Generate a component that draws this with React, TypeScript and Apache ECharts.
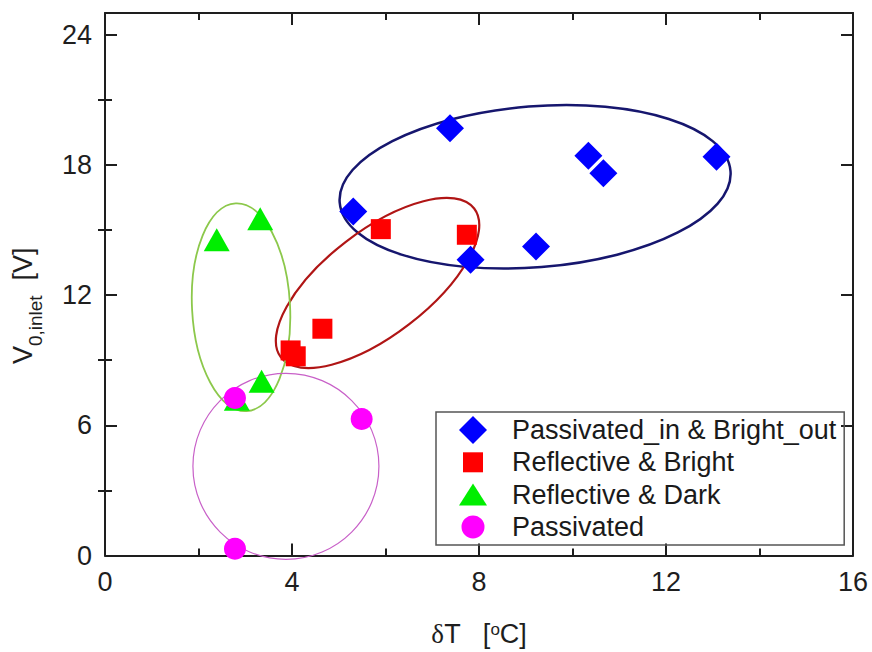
import React, { useEffect, useRef } from 'react';
import * as echarts from 'echarts';

// ---- data ----
const seriesNames = [
  'Passivated_in & Bright_out',
  'Reflective & Bright',
  'Reflective & Dark',
  'Passivated',
];
const passInBrightOutX = [5.31, 7.38, 7.82, 9.22, 10.34, 10.66, 13.08];
const passInBrightOutY = [15.85, 19.69, 13.63, 14.24, 18.42, 17.62, 18.38];
const reflBrightX = [3.97, 4.08, 4.65, 5.9, 7.74];
const reflBrightY = [9.45, 9.18, 10.45, 15.04, 14.78];
const reflDarkX = [2.39, 3.32, 3.35, 2.82];
const reflDarkY = [14.55, 15.52, 8.03, 7.2];
const passivatedX = [2.78, 5.49, 2.78];
const passivatedY = [7.26, 6.29, 0.31];

const xTickValues = [0, 4, 8, 12, 16];
const yTickLabels = [0, 6, 12, 18, 24];
const yMinorTicks = [3, 9, 15, 21];

// grouping ellipses (centres in data units)
const groupCentreX = [9.2, 5.83, 2.91, 3.87];
const groupCentreY = [16.99, 12.56, 11.44, 4.11];

// ---- styles ----
const FONT = '"Liberation Sans", Arial, sans-serif';
const AXIS_COLOR = '#1e1e1e';
const markerColors = ['#0000ff', '#ff0000', '#00ee00', '#ff00ff'];
const ellipseStyles = [
  { rx: 196, ry: 80.5, rot: 4.6, color: '#16166e', width: 2.5 },
  { rx: 122, ry: 52, rot: 37.6, color: '#b01515', width: 2.2 },
  { rx: 49, ry: 104, rot: 3, color: '#8cc84b', width: 1.8 },
  { rx: 93, ry: 93, rot: 0, color: '#c860c8', width: 1.2 },
];

const zip = (xs: number[], ys: number[]) => xs.map((x, i) => [x, ys[i]]);

export default function App() {
  const ref = useRef<HTMLDivElement>(null);

  useEffect(() => {
    if (!ref.current) return;
    const chart = echarts.init(ref.current, null, { renderer: 'svg' });

    const tickLine = { color: AXIS_COLOR, width: 2 };
    const baseX = {
      type: 'value',
      min: 0,
      max: 16,
      interval: 4,
      axisLine: { show: true, onZero: false, lineStyle: tickLine },
      axisTick: { show: true, inside: true, length: 12, lineStyle: tickLine },
      minorTick: { show: true, splitNumber: 2, length: 7, lineStyle: tickLine },
      splitLine: { show: false },
      minorSplitLine: { show: false },
    };
    const baseY = {
      type: 'value',
      min: 0,
      max: 25,
      splitLine: { show: false },
      axisLine: { show: true, onZero: false, lineStyle: tickLine },
    };

    const ellipseSeries = groupCentreX.map((cx, i) => {
      const st = ellipseStyles[i];
      return {
        type: 'custom',
        name: 'group' + i,
        coordinateSystem: 'cartesian2d',
        clip: false,
        silent: true,
        z: 1,
        data: [[cx, groupCentreY[i]]],
        renderItem: (params: any, api: any) => {
          const c = api.coord([api.value(0), api.value(1)]);
          return {
            type: 'ellipse',
            x: c[0],
            y: c[1],
            rotation: (st.rot * Math.PI) / 180,
            shape: { cx: 0, cy: 0, rx: st.rx, ry: st.ry },
            style: { fill: 'none', stroke: st.color, lineWidth: st.width },
          };
        },
      };
    });

    const symbols = ['diamond', 'rect', 'triangle', 'circle'];
    const sizes: any[] = [[28, 28], [20, 20], [26, 23], 22];
    const datasets = [
      zip(passInBrightOutX, passInBrightOutY),
      zip(reflBrightX, reflBrightY),
      zip(reflDarkX, reflDarkY),
      zip(passivatedX, passivatedY),
    ];
    const scatterSeries = seriesNames.map((name, i) => ({
      type: 'scatter',
      name,
      data: datasets[i],
      symbol: symbols[i],
      symbolSize: sizes[i],
      itemStyle: { color: markerColors[i], opacity: 1 },
      z: 5 + i,
    }));

    const legendIcons = [
      'path://M0,0M48,28M14,0L28,14L14,28L0,14Z',
      'path://M0,0M48,28M4,4L24,4L24,24L4,24Z',
      'path://M0,0M48,28M14,3L28,25L0,25Z',
      'path://M0,0M48,28M2.5,14A11.5,11.5,0,1,1,25.5,14A11.5,11.5,0,1,1,2.5,14Z',
    ];

    chart.setOption({
      animation: false,
      backgroundColor: '#ffffff',
      textStyle: { fontFamily: FONT },
      grid: { left: 105, right: 19, top: 13, bottom: 96 },
      legend: {
        orient: 'vertical',
        left: 436,
        top: 412,
        padding: [4, 8, 4, 23],
        itemWidth: 48,
        itemHeight: 28,
        itemGap: 4.3,
        borderColor: '#555555',
        borderWidth: 1.5,
        borderRadius: 0,
        selectedMode: false,
        textStyle: { fontSize: 27, color: '#1a1a1a', fontFamily: FONT, lineHeight: 28 },
        data: seriesNames.map((n, i) => ({ name: n, icon: legendIcons[i] })),
      },
      xAxis: [
        {
          ...baseX,
          position: 'bottom',
          axisLabel: { fontSize: 27, color: AXIS_COLOR, margin: 13, fontFamily: FONT },
          name: '{d|δ}{t|T   [}{s|o}{t|C]}',
          nameLocation: 'middle',
          nameGap: 63,
          nameTextStyle: {
            color: AXIS_COLOR,
            rich: {
              d: { fontFamily: '"Liberation Serif", serif', fontSize: 27, lineHeight: 30, color: AXIS_COLOR },
              t: { fontFamily: FONT, fontSize: 27, lineHeight: 30, color: AXIS_COLOR },
              s: { fontFamily: FONT, fontSize: 17, lineHeight: 17, verticalAlign: 'top', padding: [2, 0, 0, 0], color: AXIS_COLOR },
            },
          },
        },
        { ...baseX, position: 'top', axisLabel: { show: false } },
      ],
      yAxis: [
        {
          ...baseY,
          position: 'left',
          axisTick: { show: true, inside: true, length: 12, lineStyle: tickLine, customValues: yTickLabels },
          axisLabel: { fontSize: 27, color: AXIS_COLOR, margin: 13, fontFamily: FONT, customValues: yTickLabels },
          name: '{v|V}{sub|0,inlet}{b|  [V]}',
          nameLocation: 'middle',
          nameRotate: 90,
          nameGap: 60,
          nameTextStyle: {
            color: AXIS_COLOR,
            padding: [0, 43, 0, 0],
            rich: {
              v: { fontFamily: FONT, fontSize: 27, lineHeight: 44, color: AXIS_COLOR },
              sub: { fontFamily: FONT, fontSize: 19, lineHeight: 19, verticalAlign: 'bottom', color: AXIS_COLOR },
              b: { fontFamily: FONT, fontSize: 27, lineHeight: 44, color: AXIS_COLOR },
            },
          },
        },
        {
          ...baseY,
          position: 'left',
          axisLine: { show: false },
          axisTick: { show: true, inside: true, length: 7, lineStyle: tickLine, customValues: yMinorTicks },
          axisLabel: { show: false },
        },
        {
          ...baseY,
          position: 'right',
          axisTick: { show: true, inside: true, length: 12, lineStyle: tickLine, customValues: yTickLabels },
          axisLabel: { show: false },
        },
        {
          ...baseY,
          position: 'right',
          axisLine: { show: false },
          axisTick: { show: true, inside: true, length: 7, lineStyle: tickLine, customValues: yMinorTicks },
          axisLabel: { show: false },
        },
      ],
      series: [...ellipseSeries, ...scatterSeries],
    });

    return () => chart.dispose();
  }, []);

  return (
    <div
      ref={ref}
      style={{ position: 'fixed', left: 0, top: 0, width: 872, height: 652, background: '#fff' }}
    />
  );
}
